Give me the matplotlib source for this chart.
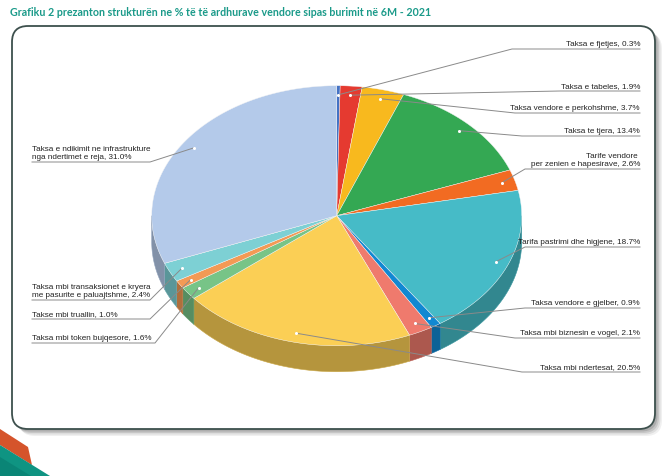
import numpy as np
import matplotlib
matplotlib.use('Agg')
import matplotlib.pyplot as plt
from matplotlib.patches import Polygon, FancyBboxPatch
from matplotlib.colors import to_rgb

# te dhenat (clockwise nga lart)
labels = ['Taksa e fjetjes, 0.3%',
          'Taksa e tabeles, 1.9%',
          'Taksa vendore e perkohshme, 3.7%',
          'Taksa te tjera, 13.4%',
          'Tarife vendore \nper zenien e hapesirave, 2.6%',
          'Tarifa pastrimi dhe higjene, 18.7%',
          'Taksa vendore e gjelber, 0.9%',
          'Taksa mbi biznesin e vogel, 2.1%',
          'Taksa mbi ndertesat, 20.5%',
          'Taksa mbi token bujqesore, 1.6%',
          'Takse mbi truallin, 1.0%',
          'Taksa mbi transaksionet e kryera\nme pasurite e paluajtshme, 2.4%',
          'Taksa e ndikimit ne infrastrukture\nnga ndertimet e reja, 31.0%']
values = [0.3, 1.9, 3.7, 13.4, 2.6, 18.7, 0.9, 2.1, 20.5, 1.6, 1.0, 2.4, 31.0]
colors = ['#4472c4', '#e53a30', '#f8b91e', '#34a853', '#f26b22', '#46bbc7',
          '#1188d2', '#ef7a6d', '#fbcf55', '#77c487', '#f39a55', '#7dd0d4',
          '#b4caea']

title = 'Grafiku 2 prezanton strukturën ne % të të ardhurave vendore sipas burimit në 6M - 2021'

# vendosja e etiketave: (ana, y e vijes, x e thyerjes)
label_pos = [('R', 50, 512), ('R', 92, 560), ('R', 114, 515), ('R', 137, 522),
             ('R', 170, 525), ('R', 248, 525), ('R', 309, 525), ('R', 339, 515),
             ('R', 373, 522), ('L', 344, 155), ('L', 320, 150), ('L', 301, 150),
             ('L', 163, 150)]

cx, cy, rx, ry, depth = 336.7, 216.7, 185, 130, 26


def ell(t, r=1.0, dz=0.0):
    t = np.radians(t)
    return cx + r * rx * np.sin(t), cy - r * ry * np.cos(t) + dz


def darker(c, f=0.72):
    return tuple(v * f for v in to_rgb(c))


fig = plt.figure(figsize=(6.69, 4.77), dpi=100)
ax = fig.add_axes([0, 0, 1, 1])
ax.set_xlim(0, 669)
ax.set_ylim(477, 0)
ax.axis('off')

# korniza me hije
for i, a in enumerate([0.06, 0.08, 0.1, 0.12]):
    off = 7 - i * 1.5
    ax.add_patch(FancyBboxPatch((12 + off, 27 + off), 643, 403,
                                boxstyle='round,pad=0,rounding_size=16',
                                fc='#000000', ec='none', alpha=a, zorder=0))
ax.add_patch(FancyBboxPatch((12, 27), 643, 403,
                            boxstyle='round,pad=0,rounding_size=16',
                            fc='white', ec='#3d504d', lw=1.3, zorder=1))

# dekorimi poshte majtas
ax.add_patch(Polygon([(0, 430), (28, 448), (32, 466), (0, 446)],
                     closed=True, fc='#d5542b', ec='none', zorder=1))
ax.add_patch(Polygon([(0, 446), (50, 477), (0, 477)],
                     closed=True, fc='#0f9482', ec='none', zorder=1))
ax.add_patch(Polygon([(0, 458), (31, 477), (0, 477)],
                     closed=True, fc='#0a8576', ec='none', zorder=1))

ax.text(10, 13, title, fontsize=7.7, color='#1a9a89', fontweight='bold',
        family='Lato', va='center', ha='left')

total = sum(values)
edges = np.concatenate([[0], np.cumsum(values)]) / total * 360

# anet e dukshme
for a1, a2, c in zip(edges[:-1], edges[1:], colors):
    lo, hi = max(a1, 90), min(a2, 270)
    if hi <= lo:
        continue
    ts = np.linspace(lo, hi, 60)
    xt, yt = ell(ts)
    xb, yb = ell(ts[::-1], dz=depth)
    pts = np.column_stack([np.concatenate([xt, xb]), np.concatenate([yt, yb])])
    ax.add_patch(Polygon(pts, closed=True, fc=darker(c), ec=darker(c, 0.8),
                         lw=0.4, zorder=2))

# faqja e siperme
for a1, a2, c in zip(edges[:-1], edges[1:], colors):
    ts = np.linspace(a1, a2, 120)
    xt, yt = ell(ts)
    pts = np.column_stack([np.concatenate([[cx], xt]), np.concatenate([[cy], yt])])
    ax.add_patch(Polygon(pts, closed=True, fc=c, ec='#f4f4f4', lw=0.3, zorder=3))

# etiketat me vija
for (side, uy, ex), lab, a1, a2 in zip(label_pos, labels, edges[:-1], edges[1:]):
    dx, dy = ell((a1 + a2) / 2, 0.93)
    if side == 'R':
        ax.plot([dx, ex, 640], [dy, uy, uy], color='#8a8a8a', lw=0.7, zorder=4)
        ax.text(640, uy - 1.5, lab, ha='right', va='bottom', fontsize=5.9,
                family='Liberation Sans', color='#222222', multialignment='right',
                linespacing=1.2, zorder=5)
    else:
        ax.plot([dx, ex, 32], [dy, uy, uy], color='#8a8a8a', lw=0.7, zorder=4)
        ax.text(32, uy - 1.5, lab, ha='left', va='bottom', fontsize=5.9,
                family='Liberation Sans', color='#222222', multialignment='left',
                linespacing=1.2, zorder=5)
    ax.plot(dx, dy, 'o', ms=2.2, mfc='white', mec='none', zorder=6)

fig.savefig('out.png', dpi=100)
